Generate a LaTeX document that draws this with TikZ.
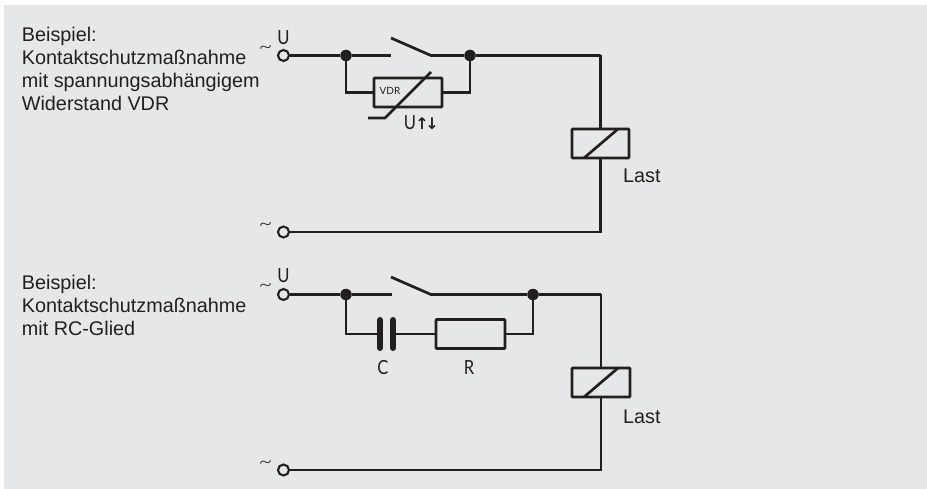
\documentclass[tikz,border=0pt]{standalone}
\usepackage{fontspec}
\setmainfont{Liberation Sans}
\newfontfamily\thinfont{Lato Light}
\newfontfamily\symfont[FakeStretch=0.85]{Lato}
\newfontfamily\smallfont{Lato}
\newfontfamily\arrowfont{DejaVu Sans}
\definecolor{ink}{HTML}{231F20}
\definecolor{panel}{HTML}{E6E7E8}
\tikzset{
  wire/.style={draw=ink,line width=2.7pt,line join=miter},
  term/.style={circle,draw=ink,line width=2.1pt,fill=panel,inner sep=0pt,minimum size=11pt},
  junction/.style={circle,fill=ink,inner sep=0pt,minimum size=11.5pt},
  partbox/.style={rectangle,draw=ink,line width=2.7pt,inner sep=0pt,rounded corners=0.8pt},
  caption/.style={font=\fontsize{19.8}{23}\selectfont,text=ink,align=left,anchor=north west,inner sep=0pt},
  lastlabel/.style={font=\fontsize{19.8}{20}\selectfont,text=ink,anchor=base west,inner sep=0pt},
  symlabel/.style={font=\symfont\fontsize{19.5}{20}\selectfont,text=ink,anchor=base,inner sep=0pt},
  tilde/.style={font=\thinfont\fontsize{24}{24}\selectfont,text=ink,anchor=center,inner sep=0pt},
  plate/.style={draw=ink,line width=6pt,line cap=round},
}
\begin{document}
\begin{tikzpicture}[x=1pt,y=-1pt]
\useasboundingbox (0,0) rectangle (927,489);
\fill[panel] (4,5) rectangle (927,489);

% --- top circuit ---
\node[caption] (capA) at (21.7,26.5) {Beispiel:\\Kontaktschutzmaßnahme\\mit spannungsabhängigem\\Widerstand VDR};
\node[term] (a1) at (283.5,55.5) {};
\node[symlabel] (aU) at (283.5,44.5) {U};
\node[tilde] (aT) at (265.5,50) {\char`~};
\node[junction] (a2) at (346,55.5) {};
\node[junction] (a3) at (470,55.5) {};
\coordinate (a4) at (391,55.5);
\coordinate (a5) at (391,38);
\coordinate (a6) at (431,55.5);
\coordinate (a7) at (600.5,55.5);
\node[partbox,minimum width=68pt,minimum height=29pt] (vdr) at (408,92.5) {};
\node[font=\smallfont\fontsize{10}{10}\selectfont,text=ink,inner sep=0pt] (vdrT) at (390,91) {VDR};
\draw[wire] (a1) -- (a2) -- (a4);
\draw[wire] (a5) -- (a6) -- (a3) -- (a7);
\draw[wire] (a2) |- (vdr.west);
\draw[wire] (a3) |- (vdr.east);
\coordinate (a8) at (368,118);
\coordinate (a9) at (385,118);
\coordinate (a10) at (431,72);
\draw[wire] (a8) -- (a9) -- (a10);
\node[symlabel] (vU) at (410,129.5) {U};
\node[font=\arrowfont\bfseries\fontsize{16}{16}\selectfont,text=ink,anchor=base,inner sep=0pt] (vA) at (427,129.5) {↑\kern-3.5pt↓};
% load A
\node[partbox,minimum width=57pt,minimum height=29pt] (rA) at (600.5,143.5) {};
\coordinate (rAa) at (584,158);
\coordinate (rAb) at (618,129);
\draw[wire] (rAa) -- (rAb);
\node[lastlabel] (lastA) at (623,183) {Last};
\draw[wire] (a7) -- (rA.north);
\coordinate (a11) at (600.5,232);
\node[term] (a12) at (283.5,232) {};
\node[tilde] (aT2) at (265.5,227) {\char`~};
\draw[wire] (rA.south) -- (a11) -- (a12);

% --- bottom circuit ---
\node[caption] (capB) at (21.7,274.5) {Beispiel:\\Kontaktschutzmaßnahme\\mit RC-Glied};
\node[term] (b1) at (283.5,294.5) {};
\node[symlabel] (bU) at (283.5,282.5) {U};
\node[tilde] (bT) at (265.5,288) {\char`~};
\node[junction] (b2) at (346,294.5) {};
\node[junction] (b3) at (533,294.5) {};
\coordinate (b4) at (392,294.5);
\coordinate (b5) at (391,277);
\coordinate (b6) at (431,294.5);
\coordinate (b7) at (601,294.5);
\draw[wire] (b1) -- (b2) -- (b4);
\draw[wire] (b5) -- (b6) -- (b3) -- (b7);
\coordinate (cL) at (380,334);
\coordinate (cR) at (393,334);
\draw[plate] (380,320) -- (380,348);
\draw[plate] (393,320) -- (393,348);
\node[partbox,minimum width=69pt,minimum height=29pt] (res) at (470.5,334) {};
\draw[wire] (b2) |- (cL);
\draw[wire] (cR) -- (res.west);
\draw[wire] (b3) |- (res.east);
\node[symlabel] (cT) at (383,374) {C};
\node[symlabel] (rT) at (469,374) {R};
% load B
\node[partbox,minimum width=58pt,minimum height=29pt] (rB) at (601,382.5) {};
\coordinate (rBa) at (584,397);
\coordinate (rBb) at (618,368);
\draw[wire] (rBa) -- (rBb);
\node[lastlabel] (lastB) at (623,423) {Last};
\draw[wire] (b7) -- (rB.north);
\coordinate (b11) at (601,470);
\node[term] (b12) at (283.5,470) {};
\node[tilde] (bT2) at (265.5,465) {\char`~};
\draw[wire] (rB.south) -- (b11) -- (b12);
\end{tikzpicture}
\end{document}
